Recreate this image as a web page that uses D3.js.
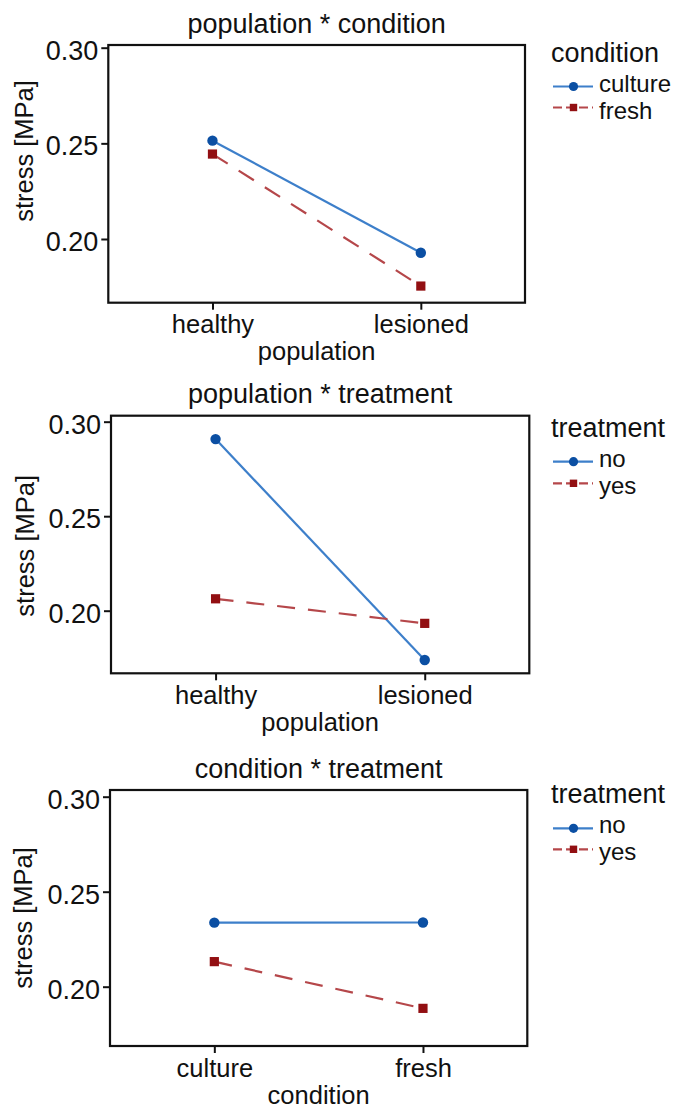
<!DOCTYPE html>
<html>
<head>
<meta charset="utf-8">
<script src="https://cdn.jsdelivr.net/npm/d3@7"></script>
<style>
  html, body { margin: 0; padding: 0; background: #fff; }
  svg text { font-family: "Liberation Sans", Arial, Helvetica, sans-serif; fill: #111; }
</style>
</head>
<body>
<svg id="chart" width="682" height="1110"></svg>
<script>
// ---------- data ----------
const yTicks = [0.20, 0.25, 0.30];
const yTickLabels = ["0.20", "0.25", "0.30"];
const yAxisTitle = "stress [MPa]";

// panel 1: population * condition
const p1Title = "population * condition";
const p1Categories = ["healthy", "lesioned"];
const p1XTitle = "population";
const p1LegendTitle = "condition";
const p1SeriesNames = ["culture", "fresh"];
const p1Culture = [0.2514, 0.1928];
const p1Fresh = [0.2444, 0.1754];

// panel 2: population * treatment
const p2Title = "population * treatment";
const p2Categories = ["healthy", "lesioned"];
const p2XTitle = "population";
const p2LegendTitle = "treatment";
const p2SeriesNames = ["no", "yes"];
const p2No = [0.2908, 0.1739];
const p2Yes = [0.2063, 0.1933];

// panel 3: condition * treatment
const p3Title = "condition * treatment";
const p3Categories = ["culture", "fresh"];
const p3XTitle = "condition";
const p3LegendTitle = "treatment";
const p3SeriesNames = ["no", "yes"];
const p3No = [0.2337, 0.2338];
const p3Yes = [0.2132, 0.1886];

// ---------- layout / style (not data) ----------
const panels = [
  { title: p1Title, cats: p1Categories, xTitle: p1XTitle, legTitle: p1LegendTitle, names: p1SeriesNames,
    series: [p1Culture, p1Fresh], yDomain: [0.1667, 0.30141],
    box: { x0: 108.3, x1: 525, y0: 45, y1: 302.7 }, ylabX: 33, ylabY: 151,
    leg: { titleY: 61.7, rowY: [86.5, 107.5], labY: [91.5, 118.5] } },
  { title: p2Title, cats: p2Categories, xTitle: p2XTitle, legTitle: p2LegendTitle, names: p2SeriesNames,
    series: [p2No, p2Yes], yDomain: [0.16688, 0.30317],
    box: { x0: 111, x1: 529.3, y0: 415.7, y1: 673.3 }, ylabX: 34, ylabY: 545.8,
    leg: { titleY: 436.7, rowY: [461.7, 483.3], labY: [466.7, 493.7] } },
  { title: p3Title, cats: p3Categories, xTitle: p3XTitle, legTitle: p3LegendTitle, names: p3SeriesNames,
    series: [p3No, p3Yes], yDomain: [0.16879, 0.30353],
    box: { x0: 110, x1: 527.3, y0: 790, y1: 1046 }, ylabX: 31.5, ylabY: 918,
    leg: { titleY: 803.3, rowY: [828.3, 849.3], labY: [833.3, 860.3] } }
];

const styles = [
  { line: "#3d7fca", marker: "#0b4fa3", dash: null, shape: "circle" },
  { line: "#b5474a", marker: "#920f12", dash: "18,13", shape: "square" }
];

const svg = d3.select("#chart");

panels.forEach(p => {
  const b = p.box;
  const g = svg.append("g");

  const x = d3.scalePoint().domain(p.cats).range([b.x0, b.x1]).padding(0.5);
  const y = d3.scaleLinear().domain(p.yDomain).range([b.y1, b.y0]);

  // y axis
  const yAxis = d3.axisLeft(y).tickValues(yTicks).tickFormat((d, i) => yTickLabels[i]).tickSize(7).tickPadding(3);
  const ya = g.append("g").attr("transform", `translate(${b.x0},0)`).call(yAxis);
  ya.select(".domain").remove();
  ya.selectAll(".tick line").attr("stroke", "#111").attr("stroke-width", 2);
  ya.selectAll(".tick text").attr("font-size", 27).attr("dy", "0.42em").style("fill", "#111");

  // x axis
  const xAxis = d3.axisBottom(x).tickSize(7).tickPadding(0);
  const xa = g.append("g").attr("transform", `translate(0,${b.y1})`).call(xAxis);
  xa.select(".domain").remove();
  xa.selectAll(".tick line").attr("stroke", "#111").attr("stroke-width", 2);
  xa.selectAll(".tick text").attr("font-size", 25.5).attr("dy", null).attr("y", 30.5).style("fill", "#111");

  // box
  g.append("rect").attr("x", b.x0).attr("y", b.y0).attr("width", b.x1 - b.x0).attr("height", b.y1 - b.y0)
    .attr("fill", "none").attr("stroke", "#111").attr("stroke-width", 2.2);

  // title
  g.append("text").attr("x", (b.x0 + b.x1) / 2).attr("y", b.y0 - 12.5).attr("text-anchor", "middle")
    .attr("font-size", 27).text(p.title);

  // x title
  g.append("text").attr("x", (b.x0 + b.x1) / 2).attr("y", b.y1 + 57.5).attr("text-anchor", "middle")
    .attr("font-size", 25.5).text(p.xTitle);

  // y title
  g.append("text").attr("transform", `translate(${p.ylabX},${p.ylabY}) rotate(-90)`).attr("text-anchor", "middle")
    .attr("font-size", 25.5).text(yAxisTitle);

  // series
  p.series.forEach((vals, si) => {
    const st = styles[si];
    const pts = vals.map((v, i) => [x(p.cats[i]), y(v)]);
    g.append("path").attr("d", d3.line()(pts)).attr("fill", "none").attr("stroke", st.line)
      .attr("stroke-width", 2.2).attr("stroke-dasharray", st.dash);
    pts.forEach(pt => {
      if (st.shape === "circle") {
        g.append("circle").attr("cx", pt[0]).attr("cy", pt[1]).attr("r", 5.2).attr("fill", st.marker);
      } else {
        g.append("rect").attr("x", pt[0] - 4.6).attr("y", pt[1] - 4.6).attr("width", 9.2).attr("height", 9.2).attr("fill", st.marker);
      }
    });
  });

  // legend
  const L = p.leg;
  g.append("text").attr("x", 551).attr("y", L.titleY).attr("font-size", 27).text(p.legTitle);
  p.names.forEach((nm, si) => {
    const st = styles[si];
    const ly = L.rowY[si];
    g.append("line").attr("x1", 553).attr("x2", 593).attr("y1", ly).attr("y2", ly)
      .attr("stroke", st.line).attr("stroke-width", 2.2).attr("stroke-dasharray", st.dash ? "9,4" : null);
    if (st.shape === "circle") {
      g.append("circle").attr("cx", 573.5).attr("cy", ly).attr("r", 4.6).attr("fill", st.marker);
    } else {
      g.append("rect").attr("x", 573.5 - 3.7).attr("y", ly - 3.7).attr("width", 7.4).attr("height", 7.4).attr("fill", st.marker);
    }
    g.append("text").attr("x", 599).attr("y", L.labY[si]).attr("font-size", 24).text(nm);
  });
});
</script>
</body>
</html>
